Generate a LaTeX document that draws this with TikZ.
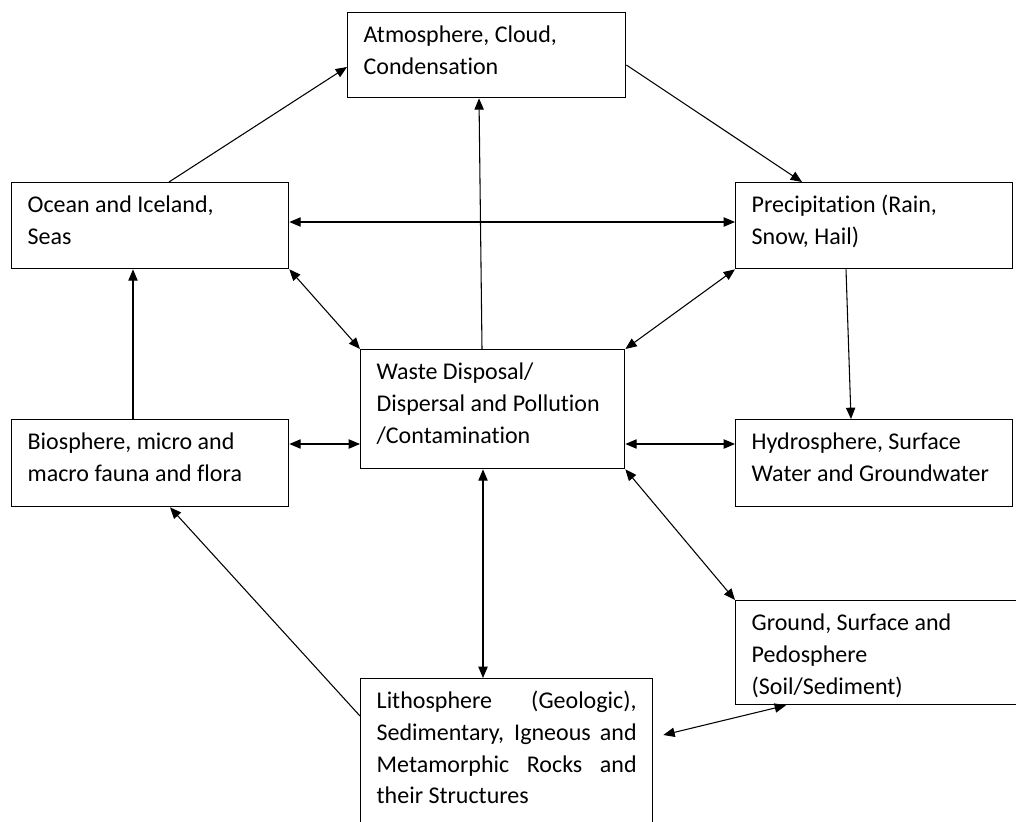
\documentclass[tikz,border=0pt]{standalone}
\usepackage{fontspec}
\setmainfont[Ligatures={NoCommon}]{Carlito}
\usetikzlibrary{arrows.meta,calc}
\newcommand\bodyfont{\fontsize{18pt}{23.8pt}\selectfont}
\newcommand\bxt[3]{\parbox[t][#2][t]{#1}{\rule{0pt}{22.5pt}#3}}
\tikzset{
  box/.style={draw, line width=1pt, anchor=north west, inner xsep=12pt, inner ysep=0pt, font=\bodyfont},
  conn/.style={line width=0.8pt, -{Triangle[length=8.5pt,width=7pt]}},
  bi/.style={line width=0.8pt, {Triangle[length=8.5pt,width=7pt]}-{Triangle[length=8.5pt,width=7pt]}}
}
\begin{document}
\begin{tikzpicture}[x=0.75pt,y=-0.75pt]
\fill[white] (0,0) rectangle (1016,821);
\path[use as bounding box] (0,0) rectangle (1016,821);
\clip (0,0) rectangle (1016,821);
\node[box] (atm) at (347,12) {\bxt{184.5pt}{63.75pt}{\raggedright Atmosphere, Cloud,\\Condensation}};
\node[box] (ocean) at (11,182) {\bxt{183.75pt}{64.5pt}{\raggedright Ocean and Iceland,\\Seas}};
\node[box] (precip) at (735,182) {\bxt{183.75pt}{64.5pt}{\raggedright Precipitation (Rain,\\Snow, Hail)}};
\node[box] (waste) at (360,349) {\bxt{174pt}{89.25pt}{\raggedright Waste Disposal/\\Dispersal and Pollution\\/Contamination}};
\node[box] (bio) at (11,419) {\bxt{183.75pt}{65.25pt}{\raggedright Biosphere, micro and\\macro fauna and flora}};
\node[box] (hydro) at (735,419) {\bxt{183.75pt}{65.25pt}{\raggedright Hydrosphere, Surface\\Water and Groundwater}};
\node[box] (ground) at (735,600) {\bxt{201pt}{78pt}{\raggedright Ground, Surface and\\Pedosphere\\(Soil/Sediment)}};
\node[box] (litho) at (360,678) {\bxt{195pt}{120pt}{Lithosphere (Geologic),\linebreak Sedimentary, Igneous and\linebreak Metamorphic Rocks and\linebreak their Structures\par}};
\coordinate (lg) at ($(litho.north east)+(10,57)$);
\draw[conn] ($(ocean.north west)+(158,0)$) -- ($(atm.north west)+(0,55)$);
\draw[conn] ($(atm.north east)+(0,53)$) -- ($(precip.north west)+(67,0)$);
\draw[bi] ($(ocean.north east)+(0,40)$) -- ($(precip.north west)+(0,40)$);
\draw[conn] ($(waste.north west)+(122,0)$) -- ($(atm.south west)+(132,0)$);
\draw[bi] (ocean.south east) -- (waste.north west);
\draw[bi] (precip.south west) -- (waste.north east);
\draw[conn] ($(bio.north west)+(122,0)$) -- ($(ocean.south west)+(122,0)$);
\draw[conn] ($(precip.south west)+(111,0)$) -- ($(hydro.north west)+(116,0)$);
\draw[bi] ($(bio.north east)+(0,25)$) -- ($(waste.north west)+(0,95)$);
\draw[bi] ($(waste.north east)+(0,95)$) -- ($(hydro.north west)+(0,25)$);
\draw[bi] ($(waste.south west)+(123,0)$) -- ($(litho.north west)+(123,0)$);
\draw[bi] (waste.south east) -- (ground.north west);
\draw[conn] ($(litho.north west)+(0,38)$) -- ($(bio.south west)+(159,0)$);
\draw[bi] ($(ground.south west)+(51,0)$) -- (lg);
\end{tikzpicture}
\end{document}
